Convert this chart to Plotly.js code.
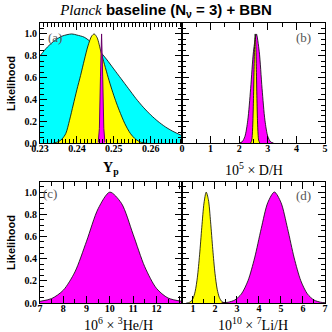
<!DOCTYPE html>
<html><head><meta charset="utf-8">
<script src="https://cdn.plot.ly/plotly-3.0.1.min.js"></script>
<style>html,body{margin:0;padding:0;background:#fff}#chart{width:332px;height:332px}</style>
</head><body><div id="chart"></div>
<script>
// Panel (a): Helium mass fraction Yp
const ypCyanX = [0.2300,0.2320,0.2340,0.2360,0.2386,0.2400,0.2420,0.2440,0.2460,0.2480,0.2500,0.2520,0.2540,0.2560,0.2580,0.2600,0.2620,0.2640,0.2660,0.2685];
const ypCyanY = [0.80,0.88,0.94,0.98,1.00,0.99,0.97,0.92,0.85,0.77,0.68,0.59,0.50,0.41,0.33,0.26,0.20,0.15,0.11,0.07];
const ypYellowX = [0.2335,0.2350,0.2360,0.2370,0.2380,0.2390,0.2400,0.2410,0.2420,0.2430,0.2440,0.2447,0.2455,0.2465,0.2475,0.2485,0.2495,0.2505,0.2515,0.2530,0.2545,0.2560,0.2575,0.2590];
const ypYellowY = [0.0,0.015,0.04,0.09,0.21,0.35,0.49,0.62,0.76,0.89,0.98,1.0,0.965,0.84,0.72,0.60,0.49,0.39,0.30,0.18,0.09,0.035,0.008,0.0];
const ypMagentaX = [0.2458,0.2461,0.2464,0.2467,0.2470,0.2473,0.2476];
const ypMagentaY = [0.011,0.135,0.607,1.0,0.607,0.135,0.011];
// Panel (b): D/H
const dhMagentaX = [2.0,2.1,2.2,2.3,2.4,2.5,2.6,2.7,2.8,2.9,3.0,3.1,3.2];
const dhMagentaY = [0.002,0.013,0.063,0.211,0.50,0.841,1.0,0.841,0.50,0.211,0.063,0.013,0.002];
const dhYellowX = [2.40,2.44,2.46,2.48,2.50,2.52,2.54,2.56,2.58,2.60,2.62,2.64,2.66,2.68,2.72];
const dhYellowY = [0.002,0.029,0.085,0.206,0.411,0.674,0.906,1.0,0.906,0.674,0.411,0.206,0.085,0.029,0.002];
// Panel (c): 3He/H
const heMagentaX = [7.0,7.5,8.0,8.5,9.0,9.5,10.0,10.5,11.0,11.5,12.0,12.5,13.1];
const heMagentaY = [0.015,0.04,0.115,0.28,0.557,0.851,0.999,0.898,0.619,0.327,0.133,0.045,0.015];
// Panel (d): 7Li/H
const liYellowX = [0.7,0.8,0.9,1.0,1.1,1.2,1.3,1.4,1.5,1.6,1.7,1.8,1.9,2.0,2.1,2.2,2.3,2.4,2.5];
const liYellowY = [0.001,0.003,0.013,0.040,0.105,0.232,0.434,0.682,0.900,0.999,0.932,0.731,0.482,0.267,0.124,0.049,0.016,0.004,0.001];
const liMagentaX = [2.3,2.6,2.9,3.2,3.5,3.8,4.1,4.4,4.7,5.0,5.3,5.6,5.9,6.2,6.5,6.8,7.0];
const liMagentaY = [0.002,0.007,0.027,0.082,0.201,0.406,0.670,0.905,1.0,0.905,0.670,0.406,0.201,0.082,0.027,0.007,0.003];

const heTickVals = [7,8,9,10,11,12,13];
const heTickText = ['7','8','9','10','11','12',''];

const CYAN='#00ffff', YELLOW='#ffff00', MAGENTA='#ff00ff';
function tr(x,y,fill,xa,ya){
  return {x:x,y:y,type:'scatter',mode:'lines',fill:'tozeroy',fillcolor:fill,
    line:{color:'#000',width:0.8,shape:'spline',smoothing:0.8},xaxis:xa,yaxis:ya,hoverinfo:'skip',showlegend:false};
}
const data = [
  tr(ypCyanX,ypCyanY,CYAN,'x','y'),
  tr(ypYellowX,ypYellowY,YELLOW,'x','y'),
  Object.assign(tr(ypMagentaX,ypMagentaY,MAGENTA,'x','y'),{line:{color:'#660066',width:1}}),
  tr(dhMagentaX,dhMagentaY,MAGENTA,'x2','y2'),
  tr(dhYellowX,dhYellowY,YELLOW,'x2','y2'),
  tr(heMagentaX,heMagentaY,MAGENTA,'x3','y3'),
  tr(liYellowX,liYellowY,YELLOW,'x4','y4'),
  tr(liMagentaX,liMagentaY,MAGENTA,'x4','y4')
];

const tickFont = {family:'Liberation Serif', size:10, color:'#000', weight:'bold'};
function ax(o){
  return Object.assign({showline:true,linecolor:'#000',linewidth:1,mirror:'allticks',
    ticks:'inside',ticklen:7,tickwidth:1,tickcolor:'#000',showgrid:false,zeroline:false,
    tickfont:tickFont,fixedrange:true}, o);
}
function minor(d){return {dtick:d,ticks:'inside',ticklen:4,tickwidth:1,tickcolor:'#000',showgrid:false};}

const yTop=[0.5704,1], yBot=[0,0.4332], xL=[0,0.4982], xR=[0.4982,1];
const xStand = -4;
const axTitleFont = {family:'Liberation Serif',size:14,color:'#000'};
const labFont = {family:'Liberation Serif',size:13,color:'#555'};
const layout = {
  width:332,height:332,margin:{l:40,r:7,t:23,b:29},
  paper_bgcolor:'#fff',plot_bgcolor:'#fff',
  title:{text:'<span style="font-family:Liberation Serif;font-weight:normal"><i>Planck</i></span> baseline (N<sub>ν</sub> = 3) + BBN',
    font:{family:'Liberation Sans',size:15,weight:'bold',color:'#000'},x:0.5,xref:'container',y:0.97,yref:'container',yanchor:'middle'},
  xaxis: ax({domain:xL,anchor:'y',range:[0.23,0.2685],tick0:0.23,dtick:0.01,tickformat:'.2f',minor:minor(0.001),ticklabelstandoff:xStand}),
  yaxis: ax({domain:yTop,anchor:'x',range:[0,1.1],dtick:0.2,tickformat:'.1f',minor:minor(0.05)}),
  xaxis2: ax({domain:xR,anchor:'y2',range:[0,5],dtick:1,minor:minor(0.5),ticklabelstandoff:xStand}),
  yaxis2: ax({domain:yTop,anchor:'x2',range:[0,1.1],dtick:0.2,showticklabels:false,minor:minor(0.05)}),
  xaxis3: ax({domain:xL,anchor:'y3',range:[7,13.1],tickmode:'array',tickvals:heTickVals,ticktext:heTickText,ticklabelstandoff:xStand,minor:{tickmode:'linear',tick0:7,dtick:0.5,ticks:'inside',ticklen:4,tickwidth:1,tickcolor:'#000'}}),
  yaxis3: ax({domain:yBot,anchor:'x3',range:[0,1.093],dtick:0.2,tickformat:'.1f',minor:minor(0.05)}),
  xaxis4: ax({domain:xR,anchor:'y4',range:[0.5,7],tick0:1,dtick:1,minor:minor(0.5),ticklabelstandoff:xStand}),
  yaxis4: ax({domain:yBot,anchor:'x4',range:[0,1.093],dtick:0.2,showticklabels:false,minor:minor(0.05)}),
  annotations:[
    {text:'<b>Likelihood</b>',x:-0.1018,y:0.7857,textangle:-90},
    {text:'<b>Likelihood</b>',x:-0.1018,y:0.2179,textangle:-90},
    {text:'<b>Y<sub>p</sub></b>',x:0.2491,y:0.48,font:axTitleFont},
    {text:'10<sup>5</sup> × D/H',x:0.7509,y:0.48,font:axTitleFont},
    {text:'10<sup>6</sup> × <sup>3</sup>He/H',x:0.2737,y:-0.075,font:axTitleFont},
    {text:'10<sup>10</sup> × <sup>7</sup>Li/H',x:0.7474,y:-0.075,font:axTitleFont},
    {text:'(a)',x:0.0526,y:0.95,font:labFont},
    {text:'(b)',x:0.9263,y:0.95,font:labFont},
    {text:'(c)',x:0.0351,y:0.3893,font:labFont},
    {text:'(d)',x:0.9263,y:0.3857,font:labFont}
  ].map(a=>Object.assign({xref:'paper',yref:'paper',showarrow:false,xanchor:'center',yanchor:'middle',
      font:{family:'Liberation Sans',size:11,color:'#000'}},a))
};
Plotly.newPlot('chart',data,layout,{staticPlot:true,displayModeBar:false});
</script></body></html>
